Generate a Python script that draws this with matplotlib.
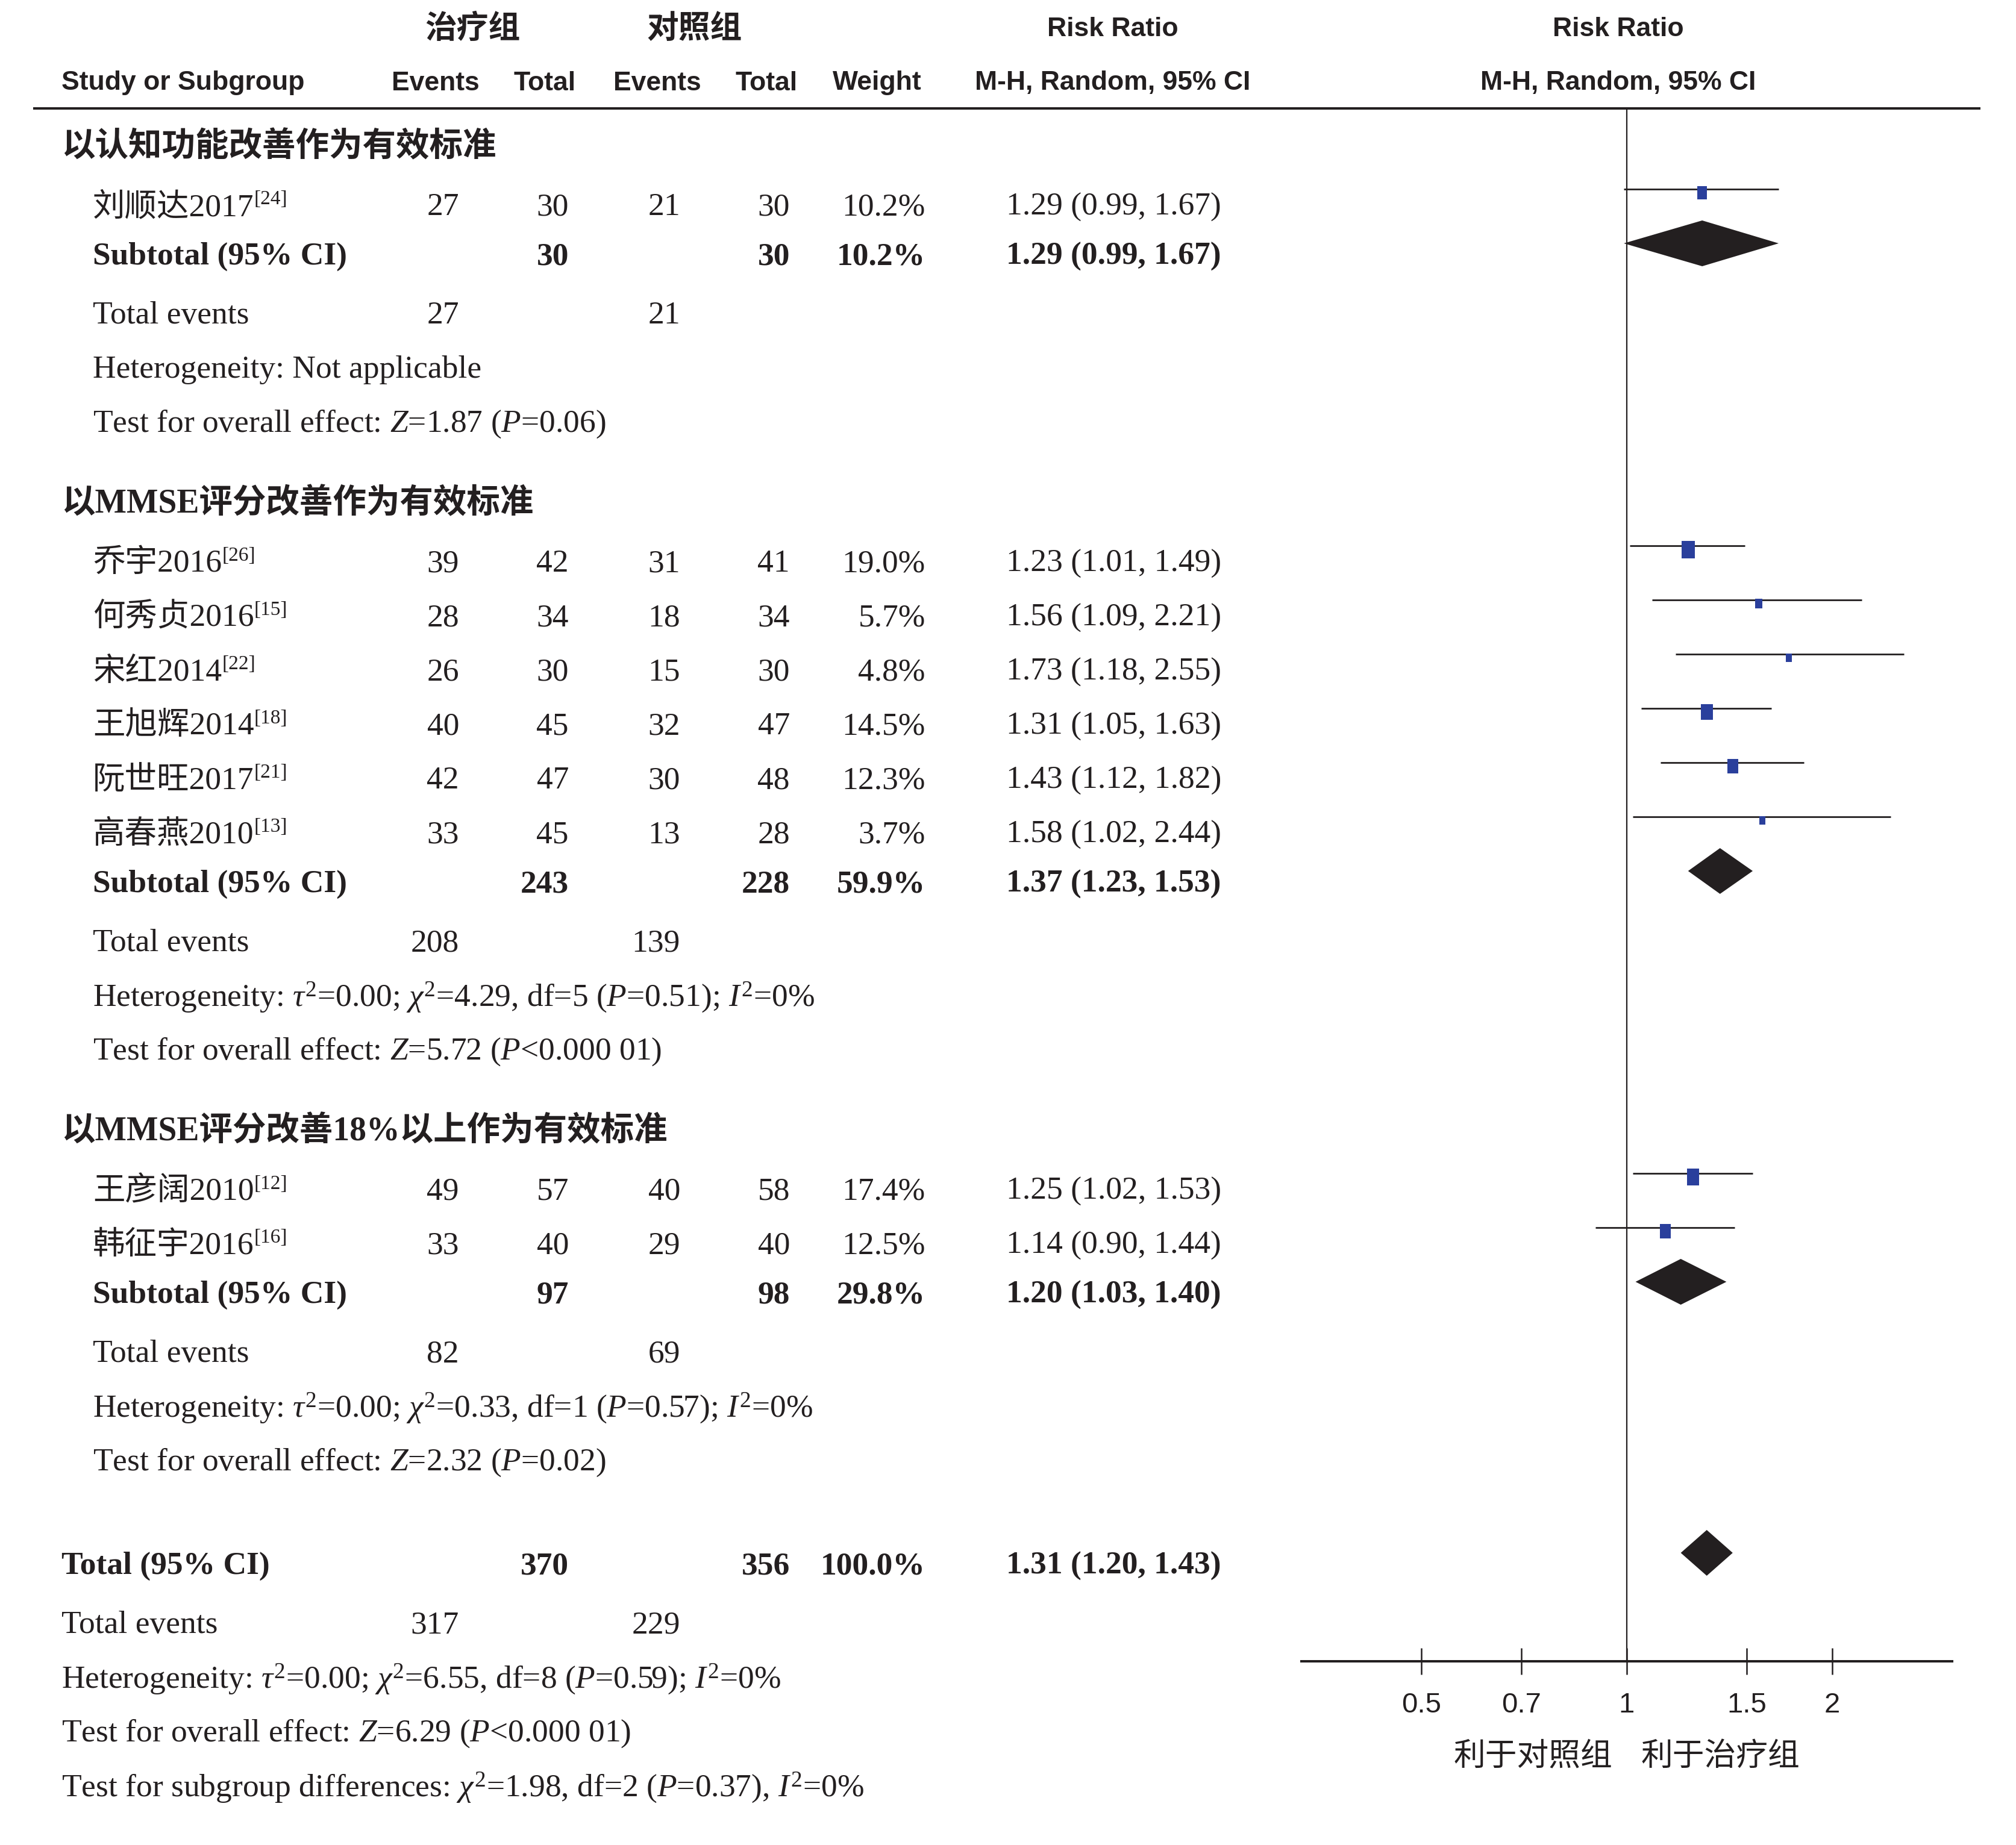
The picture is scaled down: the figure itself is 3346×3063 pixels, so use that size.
import matplotlib
matplotlib.use('Agg')
import matplotlib.pyplot as plt
from matplotlib import font_manager
import numpy as np

# dados dos estudos
study_names = ['刘顺达2017', '乔宇2016', '何秀贞2016', '宋红2014', '王旭辉2014',
               '阮世旺2017', '高春燕2010', '王彦阔2010', '韩征宇2016']
study_refs = ['[24]', '[26]', '[15]', '[22]', '[18]', '[21]', '[13]', '[12]', '[16]']
study_group = [0, 1, 1, 1, 1, 1, 1, 2, 2]
trt_events = [27, 39, 28, 26, 40, 42, 33, 49, 33]
trt_total = [30, 42, 34, 30, 45, 47, 45, 57, 40]
ctl_events = [21, 31, 18, 15, 32, 30, 13, 40, 29]
ctl_total = [30, 41, 34, 30, 47, 48, 28, 58, 40]
weights = [10.2, 19.0, 5.7, 4.8, 14.5, 12.3, 3.7, 17.4, 12.5]
rr = [1.29, 1.23, 1.56, 1.73, 1.31, 1.43, 1.58, 1.25, 1.14]
rr_lo = [0.99, 1.01, 1.09, 1.18, 1.05, 1.12, 1.02, 1.02, 0.90]
rr_hi = [1.67, 1.49, 2.21, 2.55, 1.63, 1.82, 2.44, 1.53, 1.44]

# subgrupos
group_names = ['以认知功能改善作为有效标准', '以MMSE评分改善作为有效标准',
               '以MMSE评分改善18%以上作为有效标准']
sub_trt_total = [30, 243, 97]
sub_ctl_total = [30, 228, 98]
sub_weight = [10.2, 59.9, 29.8]
sub_rr = [1.29, 1.37, 1.20]
sub_lo = [0.99, 1.23, 1.03]
sub_hi = [1.67, 1.53, 1.40]
sub_trt_events = [27, 208, 82]
sub_ctl_events = [21, 139, 69]
sub_het = ['Heterogeneity: Not applicable',
           r'Heterogeneity: $\tau^2$=0.00; $\chi^2$=4.29, df=5 ($P$=0.51); $I^2$=0%',
           r'Heterogeneity: $\tau^2$=0.00; $\chi^2$=0.33, df=1 ($P$=0.57); $I^2$=0%']
sub_test = [r'Test for overall effect: $Z$=1.87 ($P$=0.06)',
            r'Test for overall effect: $Z$=5.72 ($P$<0.000 01)',
            r'Test for overall effect: $Z$=2.32 ($P$=0.02)']

# total geral
total_trt_total, total_ctl_total = 370, 356
total_weight = 100.0
total_rr, total_lo, total_hi = 1.31, 1.20, 1.43
total_trt_events, total_ctl_events = 317, 229
total_het = r'Heterogeneity: $\tau^2$=0.00; $\chi^2$=6.55, df=8 ($P$=0.59); $I^2$=0%'
total_test = r'Test for overall effect: $Z$=6.29 ($P$<0.000 01)'
subgroup_test = r'Test for subgroup differences: $\chi^2$=1.98, df=2 ($P$=0.37), $I^2$=0%'

ticks = [0.5, 0.7, 1, 1.5, 2]
tick_labels = ['0.5', '0.7', '1', '1.5', '2']

# fontes
names = set(f.name for f in font_manager.fontManager.ttflist)
SERIF = ['Liberation Serif', 'Noto Sans CJK SC', 'DejaVu Sans']
CJK = ['Noto Sans CJK SC', 'DejaVu Sans']
if 'Liberation Sans Narrow' in names:
    SANS = ['Liberation Sans Narrow', 'Noto Sans CJK SC']
    hs, ts = 38, 38
else:
    SANS = ['Liberation Sans', 'Noto Sans CJK SC']
    hs, ts = 32, 34

plt.rcParams['font.family'] = SERIF
plt.rcParams['mathtext.fontset'] = 'custom'
plt.rcParams['mathtext.rm'] = 'Liberation Serif'
plt.rcParams['mathtext.it'] = 'Liberation Serif:italic'
plt.rcParams['mathtext.bf'] = 'Liberation Serif:bold'

INK = '#231f20'
BLUE = '#2a3f9c'
fs = 38.5

W, H = 3346, 3063
fig = plt.figure(figsize=(W / 100, H / 100), dpi=100)
ax = fig.add_axes([0, 0, 1, 1])
ax.set_xlim(0, W)
ax.set_ylim(H, 0)
ax.axis('off')

# area do forest plot
fx0, fx1, fy0, fy1 = 2160, 3240, 180, 2758
fx = fig.add_axes([fx0 / W, 1 - fy1 / H, (fx1 - fx0) / W, (fy1 - fy0) / H])
fx.patch.set_alpha(0)
fx.set_xscale('log')
fx.set_xlim(1 / 3, 3)
fx.set_ylim(fy1, fy0)
for s in ['top', 'left', 'right']:
    fx.spines[s].set_visible(False)
fx.spines['bottom'].set_linewidth(2.9)
fx.spines['bottom'].set_color(INK)
fx.set_xticks(ticks)
fx.set_xticklabels(tick_labels, fontfamily=SANS, fontsize=ts)
fx.xaxis.set_minor_locator(matplotlib.ticker.NullLocator())
fx.set_yticks([])
fx.tick_params(axis='x', direction='inout', length=32, width=1.8, pad=21, colors=INK)
fx.axvline(1, color=INK, lw=1.6, zorder=1)
fx.annotate('利于对照组', xy=(1, 0), xycoords=('data', 'axes fraction'),
            xytext=(-17, -113), textcoords='offset points', ha='right', va='center',
            fontsize=38, fontfamily=CJK, color=INK)
fx.annotate('利于治疗组', xy=(1, 0), xycoords=('data', 'axes fraction'),
            xytext=(17, -113), textcoords='offset points', ha='left', va='center',
            fontsize=38, fontfamily=CJK, color=INK)

# cabecalho
cx = {'ev1': 762, 'tot1': 944, 'ev2': 1129, 'tot2': 1311, 'w': 1536, 'rr': 1670}
ax.text(784, 48, '治疗组', ha='center', va='center', fontsize=38, fontfamily=CJK, fontweight='bold', color=INK)
ax.text(1152, 48, '对照组', ha='center', va='center', fontsize=38, fontfamily=CJK, fontweight='bold', color=INK)
ax.text(1847, 48, 'Risk Ratio', ha='center', va='center', fontsize=hs, fontfamily=SANS, fontweight='bold', color=INK)
ax.text(2686, 48, 'Risk Ratio', ha='center', va='center', fontsize=hs, fontfamily=SANS, fontweight='bold', color=INK)
hdr2 = [(102, 'Study or Subgroup', 'left'), (723, 'Events', 'center'), (904, 'Total', 'center'),
        (1091, 'Events', 'center'), (1272, 'Total', 'center'), (1456, 'Weight', 'center'),
        (1847, 'M-H, Random, 95% CI', 'center'), (2686, 'M-H, Random, 95% CI', 'center')]
for x, t, h in hdr2:
    ax.text(x, 138, t, ha=h, va='center', fontsize=hs, fontfamily=SANS, fontweight='bold', color=INK)
ax.hlines(180, 55, 3287, color=INK, lw=2.9)


def txt(x, y, s, ha='left', bold=False):
    return ax.text(x, y, s, ha=ha, va='center', fontsize=fs,
                   fontweight='bold' if bold else 'normal', color=INK)


def diamond(y, r, lo, hi):
    yc = y - 22
    fx.fill([lo, r, hi, r], [yc, yc - 38, yc, yc + 38], color=INK, lw=0, zorder=3)


y = 245
for g in range(len(group_names)):
    ax.text(102, y, group_names[g], ha='left', va='center', fontsize=40,
            fontweight='bold', fontfamily=SERIF, color=INK)
    idx = [i for i in range(len(study_names)) if study_group[i] == g]
    y += 99
    for k, i in enumerate(idx):
        if k > 0:
            y += 90
        t = txt(154, y, study_names[i])
        ax.annotate(study_refs[i], xy=(1, 0.45), xycoords=t, ha='left', va='bottom',
                    fontsize=24, color=INK)
        txt(cx['ev1'], y, str(trt_events[i]), 'right')
        txt(cx['tot1'], y, str(trt_total[i]), 'right')
        txt(cx['ev2'], y, str(ctl_events[i]), 'right')
        txt(cx['tot2'], y, str(ctl_total[i]), 'right')
        txt(cx['w'], y, f'{weights[i]:.1f}%', 'right')
        txt(cx['rr'], y, f'{rr[i]:.2f} ({rr_lo[i]:.2f}, {rr_hi[i]:.2f})')
        yl = y - 30
        fx.plot([rr_lo[i], rr_hi[i]], [yl, yl], color=INK, lw=2.0, zorder=2,
                solid_capstyle='butt')
        h_px = max(14, 29 * np.sqrt(weights[i] / 19.0))
        fx.plot([rr[i]], [yl + 6], marker=[(-0.375, -0.5), (0.375, -0.5), (0.375, 0.5), (-0.375, 0.5)],
                ms=h_px * 0.72, color=BLUE, mec=BLUE, mew=0, ls='none', zorder=4)
    y += 82
    txt(154, y, 'Subtotal (95% CI)', bold=True)
    txt(cx['tot1'], y, str(sub_trt_total[g]), 'right', True)
    txt(cx['tot2'], y, str(sub_ctl_total[g]), 'right', True)
    txt(cx['w'], y, f'{sub_weight[g]:.1f}%', 'right', True)
    txt(cx['rr'], y, f'{sub_rr[g]:.2f} ({sub_lo[g]:.2f}, {sub_hi[g]:.2f})', bold=True)
    diamond(y, sub_rr[g], sub_lo[g], sub_hi[g])
    y += 98
    txt(154, y, 'Total events')
    txt(cx['ev1'], y, str(sub_trt_events[g]), 'right')
    txt(cx['ev2'], y, str(sub_ctl_events[g]), 'right')
    y += 90
    txt(154, y, sub_het[g])
    y += 90
    txt(154, y, sub_test[g])
    y += 133

y += 39
txt(102, y, 'Total (95% CI)', bold=True)
txt(cx['tot1'], y, str(total_trt_total), 'right', True)
txt(cx['tot2'], y, str(total_ctl_total), 'right', True)
txt(cx['w'], y, f'{total_weight:.1f}%', 'right', True)
txt(cx['rr'], y, f'{total_rr:.2f} ({total_lo:.2f}, {total_hi:.2f})', bold=True)
diamond(y, total_rr, total_lo, total_hi)
y += 98
txt(102, y, 'Total events')
txt(cx['ev1'], y, str(total_trt_events), 'right')
txt(cx['ev2'], y, str(total_ctl_events), 'right')
y += 90
txt(102, y, total_het)
y += 90
txt(102, y, total_test)
y += 90
txt(102, y, subgroup_test)

fig.savefig('out.png', dpi=100)
